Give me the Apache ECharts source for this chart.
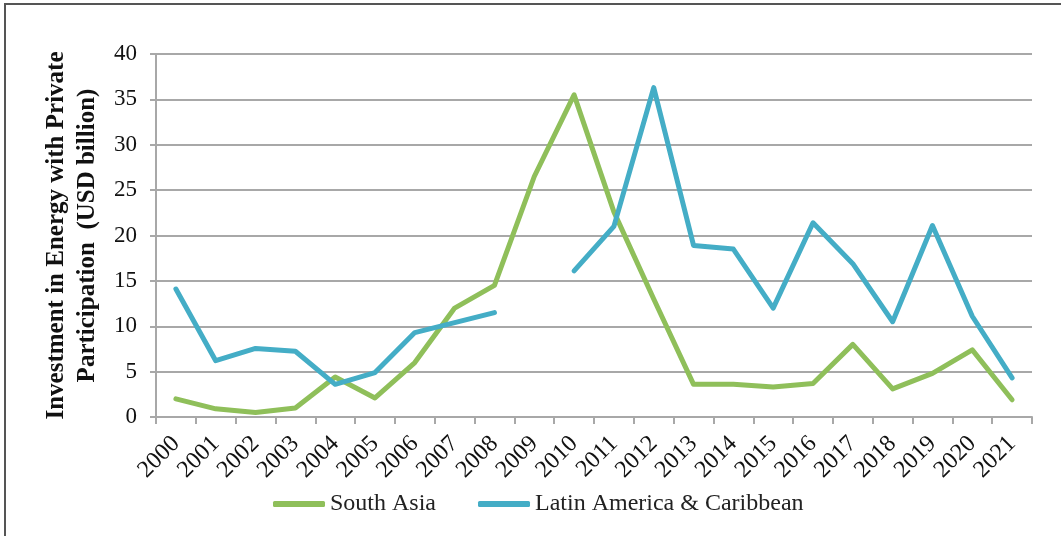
<!DOCTYPE html>
<html>
<head>
<meta charset="utf-8">
<script src="https://cdn.jsdelivr.net/npm/echarts@6/dist/echarts.min.js"></script>
<style>
html,body{margin:0;padding:0;background:#fff;}
#chart{width:1061px;height:536px;}
</style>
</head>
<body>
<div id="chart"></div>
<script>
const years = ['2000','2001','2002','2003','2004','2005','2006','2007','2008','2009','2010','2011','2012','2013','2014','2015','2016','2017','2018','2019','2020','2021'];
const southAsia = [2.0, 0.9, 0.5, 1.0, 4.4, 2.1, 6.0, 12.0, 14.5, 26.5, 35.5, 22.6, 13.0, 3.6, 3.6, 3.3, 3.7, 8.0, 3.1, 4.8, 7.4, 1.9];
const latinAmerica = [14.1, 6.2, 7.55, 7.25, 3.6, 4.9, 9.3, 10.4, 11.5, null, 16.1, 21.0, 36.3, 18.9, 18.5, 12.0, 21.4, 16.9, 10.5, 21.1, 11.1, 4.3];
const seriesNames = ['South Asia', 'Latin America & Caribbean'];
const yAxisTitle = 'Investment in Energy with Private\nParticipation  (USD billion)';

const serif = '"Liberation Serif", "Times New Roman", serif';
const gridColor = '#A8A8A8';
const chart = echarts.init(document.getElementById('chart'));
chart.setOption({
  animation: false,
  backgroundColor: '#fff',
  graphic: [{
    type: 'rect',
    shape: { x: 5, y: 4, width: 1200, height: 700 },
    style: { fill: 'none', stroke: '#555', lineWidth: 2 },
    silent: true
  }],
  grid: { left: 156, right: 29, top: 54, bottom: 119 },
  legend: {
    left: 268,
    top: 487,
    itemGap: 42,
    itemWidth: 52,
    itemHeight: 6,
    textStyle: { fontFamily: serif, fontSize: 24, color: '#222' },
    data: [
      { name: seriesNames[0], icon: 'roundRect' },
      { name: seriesNames[1], icon: 'roundRect' }
    ]
  },
  xAxis: {
    type: 'category',
    data: years,
    boundaryGap: true,
    axisLine: { show: true, lineStyle: { color: gridColor, width: 2 } },
    axisTick: { show: true, length: 7, interval: 0, lineStyle: { color: gridColor, width: 2 } },
    axisLabel: { interval: 0, rotate: 45, margin: 23, fontFamily: serif, fontSize: 24, color: '#111' },
    splitLine: { show: false }
  },
  yAxis: {
    type: 'value',
    min: 0, max: 40, interval: 5,
    name: yAxisTitle,
    nameLocation: 'middle',
    nameRotate: 90,
    nameGap: 48,
    nameTextStyle: { fontFamily: serif, fontSize: 25, fontWeight: 'bold', color: '#111', lineHeight: 31, align: 'center' },
    axisLine: { show: true, lineStyle: { color: gridColor, width: 2 } },
    axisTick: { show: true, length: 6, lineStyle: { color: gridColor, width: 2 } },
    axisLabel: { margin: 19, fontFamily: serif, fontSize: 23, color: '#111' },
    splitLine: { show: true, lineStyle: { color: gridColor, width: 2 } }
  },
  series: [
    {
      name: seriesNames[0], type: 'line', data: southAsia,
      symbol: 'none', showSymbol: false,
      color: '#8FBF5A',
      lineStyle: { width: 5, color: '#8FBF5A', cap: 'round', join: 'round' },
      z: 3
    },
    {
      name: seriesNames[1], type: 'line', data: latinAmerica,
      symbol: 'none', showSymbol: false, connectNulls: false,
      color: '#44ADC6',
      lineStyle: { width: 5, color: '#44ADC6', cap: 'round', join: 'round' },
      z: 4
    }
  ]
});
</script>
</body>
</html>
